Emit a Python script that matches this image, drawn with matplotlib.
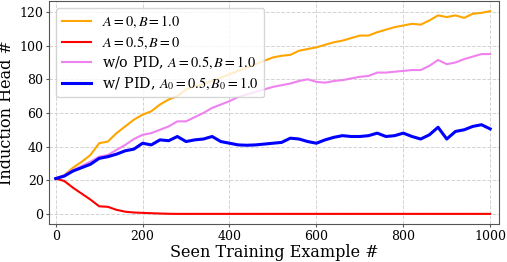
import numpy as np
import matplotlib
matplotlib.use("Agg")
import matplotlib.pyplot as plt

plt.rcParams["font.family"] = "serif"
plt.rcParams["font.serif"] = ["DejaVu Serif"]
plt.rcParams["mathtext.fontset"] = "stix"

# Seen training examples (every 20 steps)
steps = list(range(0, 1001, 20))

# A=0, B=1.0
orange_vals = [21, 23, 27.5, 31, 35, 42, 43, 48, 52, 56,
               59, 61, 65, 68, 70, 74, 76, 77, 79, 81,
               83, 85, 87, 89, 91, 93, 94, 94.5, 97, 98,
               99, 100.5, 102, 103, 104.5, 106, 106, 108, 109.5, 111,
               112, 113, 112.5, 115, 118, 117, 118, 116.5, 119, 119.5,
               120.5]

# A=0.5, B=0
red_vals = [21, 19.5, 15.5, 12, 8.5, 4.5, 4.2, 2.4, 1.3, 0.8,
            0.6, 0.4, 0.2, 0.05, 0, 0, 0, 0, 0, 0,
            0, 0, 0, 0, 0, 0, 0, 0, 0, 0,
            0, 0, 0, 0, 0, 0, 0, 0, 0, 0,
            0, 0, 0, 0, 0, 0, 0, 0, 0, 0,
            0]

# w/o PID, A=0.5, B=1.0
violet_vals = [21, 23, 26, 28.5, 31, 34, 35, 38, 41, 44.5,
               47, 48, 50, 52, 55, 55, 57.5, 60, 63, 65,
               67, 69.5, 71, 72.5, 74, 75.5, 76.5, 77.5, 79, 80,
               78.5, 78, 79, 79.5, 80.5, 81.5, 82, 84, 84, 84.5,
               85, 85.5, 85.5, 88, 91.5, 89, 90, 92, 93.5, 95,
               95]

# w/ PID, A0=0.5, B0=1.0
blue_vals = [21, 22.5, 25.5, 27.5, 29.5, 33, 34, 35.5, 37.5, 38.5,
             42, 41, 44, 43.5, 46, 43, 44, 44.5, 46, 43,
             42, 41, 40.8, 41, 41.5, 42, 42.5, 45, 44.5, 43,
             42, 44, 45.5, 46.5, 46, 46, 46.5, 48, 46, 46.5,
             48, 46, 44.5, 47, 51.5, 44.5, 49, 50, 52, 53,
             50.5]

fig = plt.figure(figsize=(5.07, 2.62), dpi=100)
ax = fig.add_axes([0.097, 0.145, 0.887, 0.851])

ax.plot(steps, orange_vals, color="orange", linewidth=1.5, label=r"$A=0, B=1.0$")
ax.plot(steps, red_vals, color="red", linewidth=1.5, label=r"$A=0.5, B=0$")
ax.plot(steps, violet_vals, color="violet", linewidth=1.5,
        label=r"w/o PID, $A=0.5, B=1.0$")
ax.plot(steps, blue_vals, color="blue", linewidth=2.2,
        label=r"w/ PID, $A_0=0.5, B_0=1.0$")

ax.set_xlim(-15, 1020)
ax.set_xticks([0, 200, 400, 600, 800, 1000])
ax.set_yticks([0, 20, 40, 60, 80, 100, 120])
ax.tick_params(labelsize=9, length=2.5, pad=1.5, color="#555555")
ax.grid(True, linestyle="--", color="lightgray", linewidth=0.7)

for sp in ax.spines.values():
    sp.set_color("#555555")

ax.set_xlabel("Seen Training Example #", fontsize=11.5, labelpad=1)
ax.set_ylabel("Induction Head #", fontsize=11.5, labelpad=3)

ax.legend(loc="upper left", fontsize=10.3, labelspacing=0.3)

fig.savefig("out.png", dpi=100)
